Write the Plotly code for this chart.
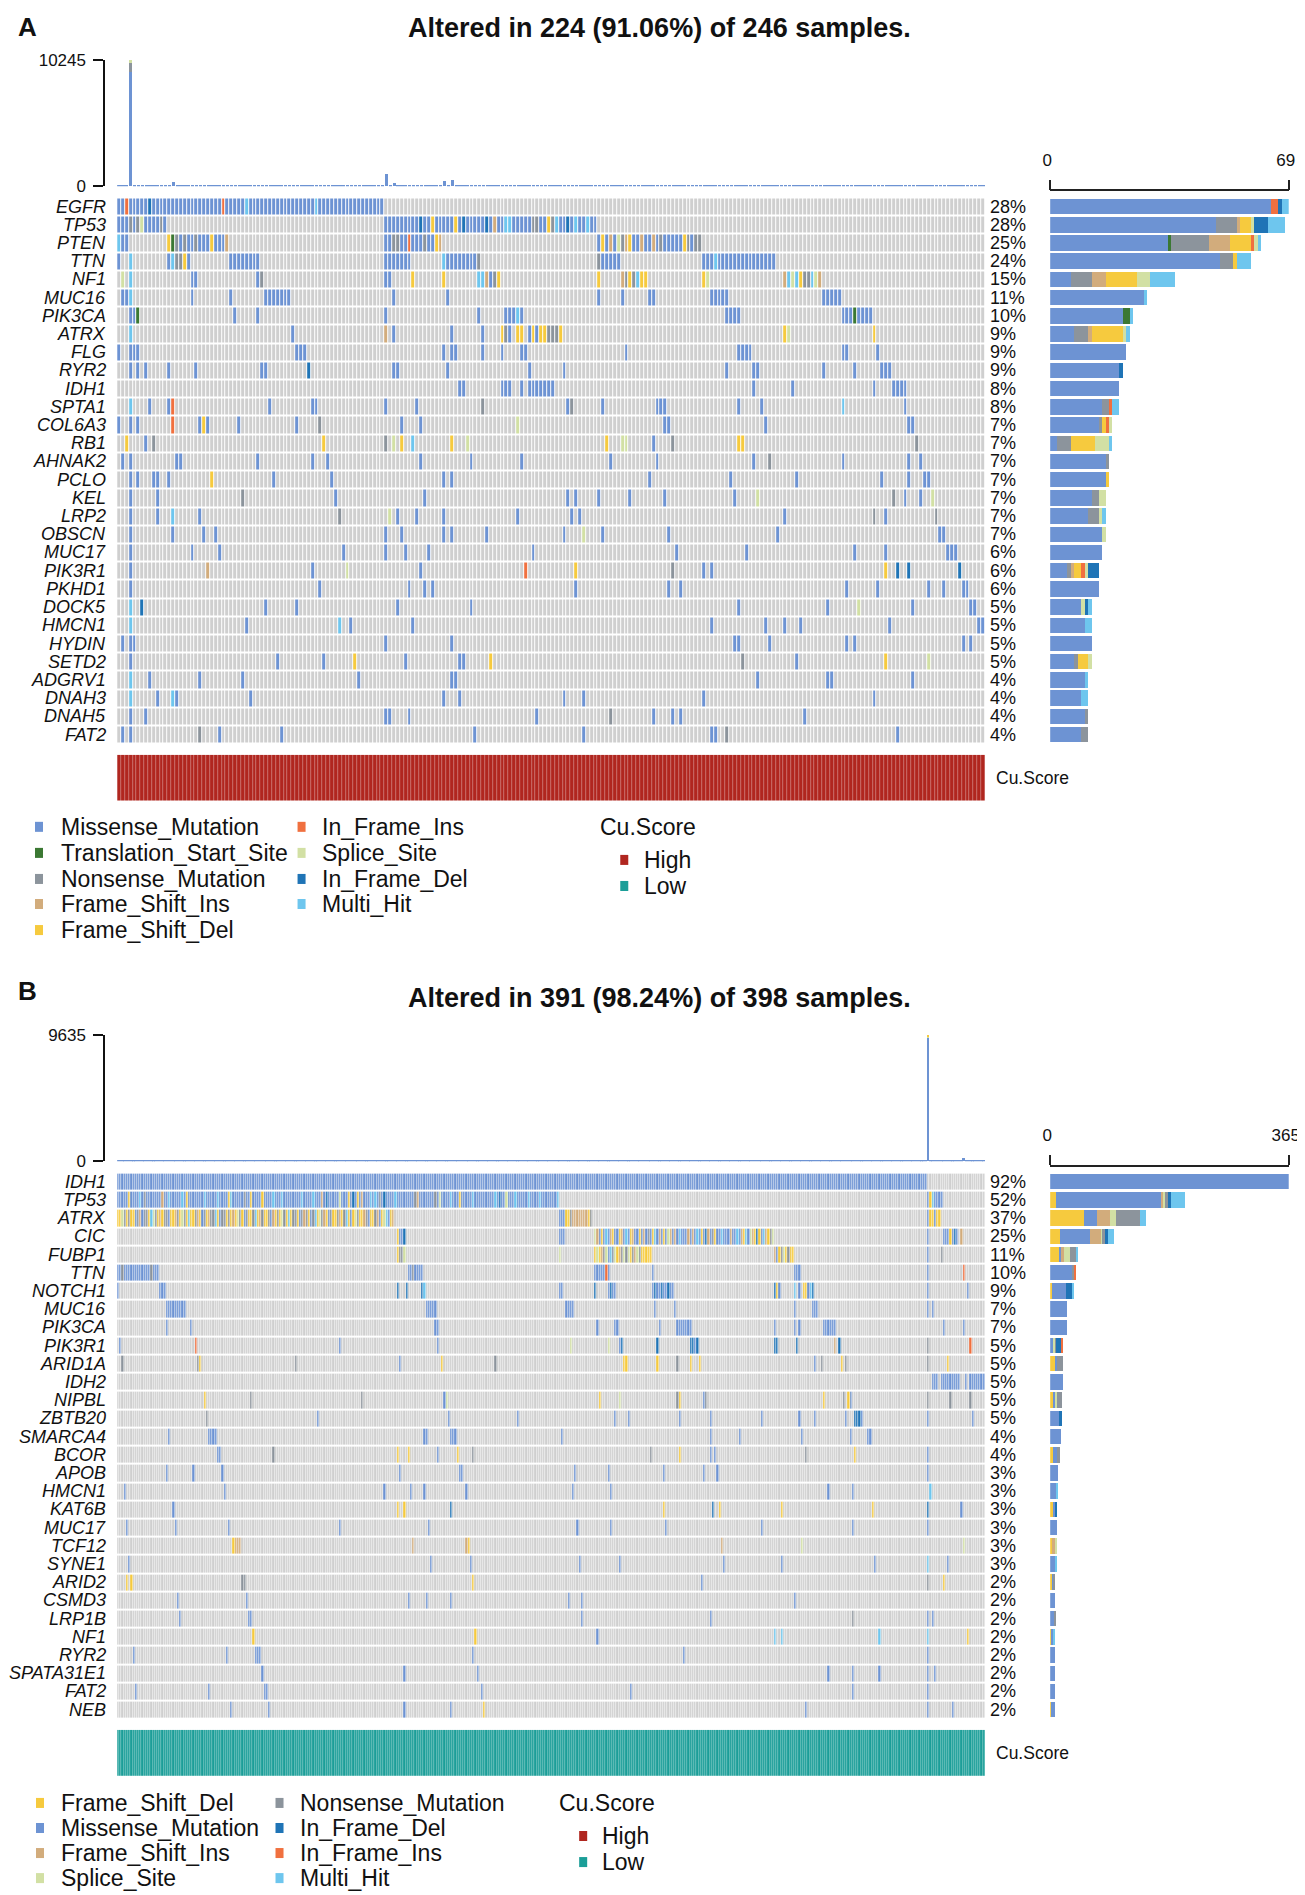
import numpy as np
import plotly.graph_objects as go

W, H = 1325, 1925
PAD = 8                      # body margin of the written page
SX, OX = 0.9835, 6.2         # small correction between page pixels and the photographed picture
SY, OY = 0.988, 11.0
FONT = "Liberation Sans, Arial, sans-serif"

# variant classes: code letter -> (index, name, colour)
VC = {
    "M": (1, "Missense_Mutation", "#6D93D3"),
    "T": (2, "Translation_Start_Site", "#3B7833"),
    "N": (3, "Nonsense_Mutation", "#8C949C"),
    "I": (4, "Frame_Shift_Ins", "#D2AC7C"),
    "F": (5, "Frame_Shift_Del", "#F6CA3E"),
    "O": (6, "In_Frame_Ins", "#F0703F"),
    "S": (7, "Splice_Site", "#D2E0A4"),
    "D": (8, "In_Frame_Del", "#1F74B6"),
    "H": (9, "Multi_Hit", "#6EC6EE"),
}
BG = "#CFCFCF"
CU_HIGH = "#B0261F"
CU_LOW = "#1B9E98"

# ---------------- panel A data ----------------
a_title = "Altered in 224 (91.06%) of 246 samples."
a_n = 224
a_genes = ["EGFR", "TP53", "PTEN", "TTN", "NF1", "MUC16", "PIK3CA", "ATRX", "FLG", "RYR2",
           "IDH1", "SPTA1", "COL6A3", "RB1", "AHNAK2", "PCLO", "KEL", "LRP2", "OBSCN", "MUC17",
           "PIK3R1", "PKHD1", "DOCK5", "HMCN1", "HYDIN", "SETD2", "ADGRV1", "DNAH3", "DNAH5", "FAT2"]
a_pct = ["28%", "28%", "25%", "24%", "15%", "11%", "10%", "9%", "9%", "9%", "8%", "8%", "7%", "7%",
         "7%", "7%", "7%", "7%", "7%", "6%", "6%", "6%", "5%", "5%", "5%", "5%", "4%", "4%", "4%", "4%"]
a_rows = [
    "0-68M 2O 8D 27O 33H 51H",
    "0-12M 3N 5N 6S 11N 69-123M 78D 81F 87F 89D 95D 97I 100H 101H 107N 108N 111F 112N 113H 116D 118H 121H",
    "0H 1-2M 13-28M 13F 14T 15N 17N 20N 24F 28I 69-83M 71N 72N 75O 79N 82F 83I 124-150M 125F 127I 129S "
    "130N 131I 132F 135I 138I 140N 146F 147N 149N 150N",
    "0M 3H 13M 14H 15N 16N 17F 18M 29-36M 69-75M 84H 85-92M 93N 124N 125-129M 151-169M 154H",
    "1S 3H 19-20M 36M 37N 69-70M 76F 84F 93H 94H 95I 96M 97N 98F 124F 130I 131N 132F 133N 134H 135F 136F "
    "151F 152S 172I 173H 174S 175H 176F 177N 178N 179H 180S 181I",
    "1-2M 3H 19M 29M 38-44M 71M 85M 124M 130M 137-138M 153-157M 182-186M",
    "3-4M 5T 30M 36M 69M 93M 100-102M 103H 104M 157-160M 187-189M 190T 191-194M",
    "3H 45M 69I 71M 86M 94M 99F 100N 101M 103F 104F 106M 107F 108M 109F 110F 111N 112N 113N 114F 172F 173S 195F",
    "0M 3-5M 46-48M 84M 86-87M 94M 99M 104-105M 131M 160-163M 187-188M 196M",
    "3M 5M 7M 13M 20M 37-38M 49D 71-72M 85M 106M 115M 157M 164-165M 182M 190M 197-199M",
    "88-89M 99-101M 104M 106-112M 164M 174M 195M 200-203M",
    "3H 8M 13M 14O 39M 50-51M 69M 77M 94N 116M 117N 125M 139-141M 160M 166M 187H 203M",
    "0M 3M 5M 14O 21M 22F 23M 31M 46M 52N 73M 78M 103S 141-142M 167M 204-205M",
    "2F 7M 9N 53F 69N 71S 73F 76H 86F 90S 126F 130-131S 138M 143N 160-161F 206N",
    "1M 3M 15-16M 36M 50M 54M 78M 91M 104M 127M 139M 164M 168N 187M 204M 207M",
    "3M 5M 9-10M 13M 24F 40M 55M 84M 86M 137M 158M 175M 197M 204M 208-209M",
    "3M 10M 32N 56M 79M 116M 118M 124M 132M 141M 159M 165S 200N 203M 207M 210S",
    "3M 10M 14H 21M 57N 70S 72M 77M 84M 103M 117M 119M 172M 195N 198M 211N",
    "3M 14M 22M 25M 69M 73M 84M 86M 95M 115M 120S 125M 142M 170M 212-213M",
    "3M 19M 26M 58M 69M 74M 80M 107M 144M 162M 190M 198M 214-216M",
    "3M 23I 50M 59S 78M 105O 118F 143N 151M 153M 198F 201D 204D 217D",
    "3M 52M 75M 79M 81M 118M 142M 145M 188M 196M 209M 213M 218-219M",
    "3H 6D 38M 46M 72M 91M 160M 183M 191S 205M 220-221M",
    "3H 33M 57H 60M 76M 153M 167M 172M 176M 199M 222-223M",
    "1M 3-4M 69M 86M 159-160M 168M 188M 190M 218M 220M",
    "3M 41M 53M 61F 74M 88-89M 96F 161N 175M 198F 209S",
    "3H 8M 21M 32M 62M 86-87M 165M 183-184M 205M",
    "3H 10M 14H 15M 34M 84M 88M 115M 120M 151M 195M",
    "3M 7M 69-70M 75M 108M 127N 138M 143M 145M 177M",
    "1M 3M 21N 26M 42M 92M 120M 153-154M 157N 201M",
]
# per-sample mutation burden (missense part), top bar
a_tmb = [
    62, 85, 48, 9275, 70, 55, 93, 41, 66, 58, 77, 52, 88, 61, 330, 47, 73, 59, 84, 50,
    44, 68, 57, 90, 39, 71, 63, 49, 82, 54, 46, 75, 60, 38, 69, 87, 52, 43, 78, 56,
    64, 41, 92, 50, 73, 58, 36, 81, 47, 66, 55, 70, 45, 89, 62, 40, 76, 53, 67, 48,
    59, 83, 42, 71, 54, 65, 38, 79, 50, 950, 61, 250, 46, 72, 57, 84, 43, 68, 51, 74,
    39, 63, 88, 55, 400, 47, 530, 60, 72, 45, 81, 53, 66, 42, 77, 58, 49, 85, 61, 44,
    70, 52, 39, 83, 120, 64, 48, 75, 56, 91, 43, 67, 59, 80, 46, 72, 54, 37, 86, 62,
    49, 74, 58, 41, 69, 55, 88, 47, 63, 76, 50, 42, 82, 57, 68, 45, 79, 53, 61, 40,
    73, 56, 84, 48, 65, 39, 77, 60, 52, 87, 44, 70, 58, 43, 81, 66, 49, 74, 55, 62,
    38, 85, 51, 69, 46, 78, 57, 42, 90, 63, 48, 72, 55, 67, 41, 83, 59, 46, 76, 53,
    64, 40, 87, 58, 71, 47, 66, 52, 80, 44, 73, 61, 49, 85, 56, 42, 78, 63, 50, 69,
    45, 82, 57, 68, 39, 75, 62, 48, 86, 54, 71, 43, 66, 59, 80, 47, 73, 52, 64, 41,
    77, 58, 69, 50,
]
a_spike = 3
a_spike_extra = [("N", 730), ("S", 240)]
a_tmb_max = 10245
a_side_max = 69
a_order = ["M", "T", "N", "I", "F", "O", "S", "D", "H"]
a_leg_cols = [["M", "T", "N", "I", "F"], ["O", "S", "D", "H"]]
a_cu = "High"

# ---------------- panel B data ----------------
b_title = "Altered in 391 (98.24%) of 398 samples."
b_n = 391
b_genes = ["IDH1", "TP53", "ATRX", "CIC", "FUBP1", "TTN", "NOTCH1", "MUC16", "PIK3CA", "PIK3R1",
           "ARID1A", "IDH2", "NIPBL", "ZBTB20", "SMARCA4", "BCOR", "APOB", "HMCN1", "KAT6B", "MUC17",
           "TCF12", "SYNE1", "ARID2", "CSMD3", "LRP1B", "NF1", "RYR2", "SPATA31E1", "FAT2", "NEB"]
b_pct = ["92%", "52%", "37%", "25%", "11%", "10%", "9%", "7%", "7%", "5%", "5%", "5%", "5%", "5%",
         "4%", "4%", "3%", "3%", "3%", "3%", "3%", "3%", "2%", "2%", "2%", "2%", "2%", "2%", "2%", "2%"]
b_rows = [
    "0-364M",
    "0-198M 365-371M 5F 31F 50F 60F 65F 104F 108F 154F 366F 10H 23H 29H 39H 45H 51H 70H 74H 83H 88H "
    "114H 116H 125H 150H 160H 170H 179H 185H 190H 198H 367H 20I 92I 110I 135I 12N 57N 118N 134N 143N "
    "100S 145S 175S 94D 106D 120D 172D",
    "0:FFSNFNFFMN 10:IMNNFHSNFI 20:FNNMFFINFS 30:NFHFFNIFMN 40:FINNHFMNNF 50:NFIFSNFMNF 60:FNHFINFFNM "
    "70:IFNFSNFHFN 80:NFMNINFMNH 90:FSNIFMNFFN 100:IFNHFMFSNF 110:FINMFFNIMF 120:SHMFI "
    "199-201M 202-203F 204N 205-211I 212F 213N 365M 366-367F 368M 369-370F",
    "126F 127-128M 129D 199-201M 215:SIMFMHMIFM 225:MFIMHMFIMM 235:FMIMNMFHMI 245:MFMSIMIMHM "
    "255:MMIMIMHMFM 265:DIMNFMMHMM 275:MIMMHMIFHM 285:SIFDFMHIFN 295:S 365M 372-374M 375F 376M 377D 378M 380I",
    "126F 127-128N 129S 199S 215:FSFINSMHNSFINSNSFNISNFFFFF 296:IMFNSFNFF 365M 371N",
    "0-18M 2N 15N 131-137M 133N 215-221M 220O 241M 305-307M 365M 381O",
    "0M 19-21M 126D 130D 137D 138H 199-200M 215D 221M 222D 223-224M 241M 242D 243-244M 245D 246M 247M "
    "248D 249-250M 296D 297F 298M 305H 307M 309-310F 311M 312H 313D 365M 383M",
    "22-30M 139-143M 202-205M 242M 251M 305M 313-315M 365M 367M",
    "22M 33M 143-144M 216M 224-225M 244M 252-258M 296M 305M 307M 318-323M 372M 381M",
    "1M 35O 100M 144M 204S 221S 226M 227D 243D 258-259D 260M 261D 296-297D 306D 323I 325D 365N 384O",
    "2N 36N 37F 80N 127M 146F 170N 228-229F 243F 252N 258F 262F 314M 317N 326F 328N 365N 374F",
    "367-369M 371-379M 382M 384-390M",
    "39F 60N 110N 147M 148S 217F 226S 252N 253F 264M 265N 318F 327N 329F 330M 365N 375N 384N",
    "40N 90M 149M 180M 224M 230M 253M 267M 290M 307M 314M 328M 332-334D 335M 365M 385M",
    "23M 41-44M 138-139M 150-152M 200M 267M 280M 308M 330M 338-339M",
    "45-46M 70N 126F 131F 144M 153F 160N 240N 253F 267M 269M 310N 332F 365M",
    "22M 34M 47M 127M 154-155M 206M 221M 246M 264M 270M 365M",
    "3M 48M 120M 132M 138M 157M 205M 222M 320M 331M 366H",
    "25M 126F 129F 150D 246F 268D 271F 299F 340F 365D 380M",
    "4M 26M 50M 100M 140M 207M 222M 247M 290M 331M 365M",
    "52F 53-55I 133I 157I 158F 272I 308S 381S",
    "5M 141M 159M 208M 226M 273M 299M 341M 365H 374M",
    "4F 6F 56-57N 160F 263M 365N 372F",
    "27M 58M 131M 139M 150M 203M 209M 305M",
    "28M 59-60M 209M 267M 331N 365M 367M",
    "61F 161F 216M 296H 299H 343H 365H 383F",
    "7M 49M 62-64M 160M 255M 365M",
    "65M 129M 162M 320M 331M 343M 365M 368M",
    "8M 41M 66-67M 164M 231M 331M 365M",
    "51M 68M 129M 150M 165F 310M 365M 376M",
]
b_tmb = [
    32, 45, 28, 51, 38, 26, 60, 41, 35, 48, 29, 55, 37, 44, 31, 58, 40, 27, 49, 36,
    52, 30, 43, 39, 57, 34, 46, 25, 50, 42, 33, 61, 38, 47, 29, 54, 36, 45, 31, 59,
    40, 28, 53, 37, 48, 32, 56, 41, 27, 50, 35, 44, 30, 58, 39, 46, 26, 52, 43, 34,
    49, 31, 57, 38, 45, 29, 54, 40, 36, 51, 28, 47, 33, 60, 42, 37, 55, 30, 44, 39,
    26, 53, 41, 48, 34, 58, 37, 45, 31, 50, 43, 28, 56, 39, 47, 33, 52, 36, 44, 30,
    57, 40, 29, 49, 38, 55, 32, 46, 41, 27, 53, 35, 60, 44, 30, 48, 37, 51, 42, 34,
    45, 28, 54, 39, 47, 33, 58, 41, 36, 50, 29, 56, 43, 38, 52, 31, 46, 40, 55, 35,
    30, 49, 37, 44, 27, 57, 42, 35, 51, 39, 46, 32, 59, 41, 34, 48, 28, 53, 45, 38,
    52, 36, 43, 29, 55, 40, 47, 33, 58, 38, 44, 31, 50, 42, 37, 54, 27, 49, 41, 35,
    46, 30, 57, 39, 48, 34, 53, 41, 28, 51, 36, 45, 32, 60, 43, 38, 55, 29, 47, 40,
    33, 52, 44, 37, 56, 31, 49, 42, 35, 58, 27, 46, 40, 53, 38, 45, 30, 54, 41, 36,
    59, 34, 47, 39, 28, 55, 43, 37, 50, 32, 48, 41, 57, 35, 44, 29, 52, 38, 46, 40,
    31, 56, 42, 49, 36, 53, 27, 45, 39, 58, 34, 47, 41, 30, 55, 37, 50, 43, 28, 52,
    44, 38, 57, 33, 48, 40, 35, 54, 29, 46, 42, 59, 37, 51, 31, 45, 39, 56, 34, 49,
    41, 27, 53, 38, 47, 36, 58, 43, 30, 50, 35, 45, 40, 55, 32, 48, 37, 52, 44, 29,
    56, 39, 46, 34, 51, 42, 28, 57, 37, 49, 33, 44, 40, 54, 31, 47, 38, 53, 45, 36,
    50, 29, 43, 58, 35, 48, 41, 32, 55, 38, 46, 30, 52, 44, 37, 57, 27, 49, 40, 34,
    53, 36, 47, 39, 31, 56, 42, 45, 28, 51, 38, 59, 33, 46, 40, 54, 35, 48, 30, 44,
    41, 52, 37, 57, 45, 9435, 39, 48, 32, 55, 43, 36, 50, 29, 47, 41, 58, 34, 46, 38,
    53, 250, 42, 35, 49, 31, 56, 44, 37, 52, 40,
]
b_spike = 365
b_spike_extra = [("S", 100), ("F", 100)]
b_tmb_max = 9635
b_side_max = 365
b_order = ["F", "M", "I", "S", "N", "D", "O", "H"]
b_leg_cols = [["F", "M", "I", "S"], ["N", "D", "O", "H"]]
b_cu = "Low"


def px(x):
    # picture pixel -> paper fraction
    return ((x - OX) / SX - PAD) / W


def py(y):
    return 1 - ((y - OY) / SY - PAD) / H


def build_matrix(rows, n):
    m = np.zeros((len(rows), n), dtype=int)
    for i, spec in enumerate(rows):
        for tok in spec.split():
            if ":" in tok:
                start, seq = tok.split(":")
                for j, ch in enumerate(seq):
                    m[i, int(start) + j] = VC[ch][0]
                continue
            code = VC[tok[-1]][0]
            span = tok[:-1]
            if "-" in span:
                a, b = map(int, span.split("-"))
            else:
                a = b = int(span)
            m[i, a:b + 1] = code
    return m


colors = [BG] + [VC[k][2] for k in "MTNIFOSDH"]
scale = []
for i, c in enumerate(colors):
    scale += [[i / len(colors), c], [(i + 1) / len(colors), c]]

fig = go.Figure()
annotations = []
shapes = []
layout_axes = {}


def axname(i, kind):
    return kind if i == 1 else f"{kind}{i}"


def add_panel(k, label, title, n, genes, pct, rows, tmb, spike, spike_extra, tmb_max, side_max,
              order, cu, heat_top, xgap):
    xt, xh, xs, xc = [axname(k + i, "x") for i in range(4)]
    yt, yh, ys, yc = [axname(k + i, "y") for i in range(4)]
    heat_bot = heat_top + 545
    m = build_matrix(rows, n)
    ng = len(genes)

    # top bar: mutation burden per sample
    fig.add_trace(go.Bar(x=list(range(n)), y=tmb, marker_color=VC["M"][2], marker_line_width=0,
                         xaxis=xt, yaxis=yt, hoverinfo="skip", showlegend=False))
    for code, val in spike_extra:
        fig.add_trace(go.Bar(x=[spike], y=[val], marker_color=VC[code][2], marker_line_width=0,
                             xaxis=xt, yaxis=yt, hoverinfo="skip", showlegend=False))

    # oncoprint matrix
    fig.add_trace(go.Heatmap(z=m, x=list(range(n)), y=list(range(ng)), colorscale=scale,
                             zmin=-0.5, zmax=len(colors) - 0.5, showscale=False, xgap=xgap, ygap=2,
                             xaxis=xh, yaxis=yh, hoverinfo="skip"))

    # side bar: counts per variant class per gene
    for code in order:
        counts = (m == VC[code][0]).sum(axis=1)
        fig.add_trace(go.Bar(x=counts, y=list(range(ng)), orientation="h", marker_color=VC[code][2],
                             marker_line_width=0, xaxis=xs, yaxis=ys, hoverinfo="skip",
                             showlegend=False))

    # Cu.Score annotation strip
    cu_val = 1 if cu == "High" else 0
    fig.add_trace(go.Heatmap(z=[[cu_val] * n], x=list(range(n)), y=[0],
                             colorscale=[[0, CU_LOW], [0.5, CU_LOW], [0.5, CU_HIGH], [1, CU_HIGH]],
                             zmin=0, zmax=1, showscale=False, xgap=0.35, xaxis=xc, yaxis=yc,
                             hoverinfo="skip"))

    hx = [px(115), px(981)]
    tick = dict(family=FONT, size=17, color="#111")
    layout_axes["xaxis" if k == 1 else f"xaxis{k}"] = dict(
        domain=hx, range=[-0.5, n - 0.5], visible=False, anchor=yt)
    layout_axes["yaxis" if k == 1 else f"yaxis{k}"] = dict(
        domain=[py(heat_top - 11.3), py(heat_top - 137.3)], range=[0, tmb_max],
        anchor="free", position=px(102), showline=True, linecolor="#111", linewidth=1.5,
        ticks="outside", ticklen=10, tickwidth=1.5, tickcolor="#111",
        tickvals=[0, tmb_max], ticktext=["0", str(tmb_max)], tickfont=tick,
        showgrid=False, zeroline=False, ticklabelstandoff=4)
    layout_axes[f"xaxis{k + 1}"] = dict(domain=hx, range=[-0.5, n - 0.5], visible=False, anchor=yh)
    layout_axes[f"yaxis{k + 1}"] = dict(domain=[py(heat_bot), py(heat_top)], range=[ng - 0.5, -0.5],
                                        visible=False, anchor=xh)
    layout_axes[f"xaxis{k + 2}"] = dict(
        domain=[px(1046), px(1284)], range=[0, side_max], side="top", anchor="free",
        position=py(heat_top - 7), showline=True, linecolor="#222", linewidth=1.5,
        ticks="outside", ticklen=10, tickwidth=1.5, tickcolor="#222",
        tickvals=[0, side_max], ticktext=["0", str(side_max)], tickfont=tick,
        showgrid=False, zeroline=False, ticklabelstandoff=7, ticklabelshift=-3)
    layout_axes[f"yaxis{k + 2}"] = dict(domain=[py(heat_bot), py(heat_top)], range=[ng - 0.5, -0.5],
                                        visible=False, anchor=xs)
    layout_axes[f"xaxis{k + 3}"] = dict(domain=hx, range=[-0.5, n - 0.5], visible=False, anchor=yc)
    layout_axes[f"yaxis{k + 3}"] = dict(domain=[py(heat_top + 602), py(heat_top + 556)],
                                        range=[-0.5, 0.5], visible=False, anchor=xc)

    for i, g in enumerate(genes):
        annotations.append(dict(text=f"<i>{g}</i>", x=px(106), xref="paper", y=i, yref=yh,
                                xanchor="right", yanchor="middle", showarrow=False,
                                font=dict(family=FONT, size=18, color="#111")))
        annotations.append(dict(text=pct[i], x=px(984), xref="paper", y=i, yref=yh,
                                xanchor="left", yanchor="middle", showarrow=False,
                                font=dict(family=FONT, size=18, color="#111")))
    annotations.append(dict(text="Cu.Score", x=px(990), xref="paper", y=py(heat_top + 579),
                            yref="paper", xanchor="left", yanchor="middle", showarrow=False,
                            font=dict(family=FONT, size=17.5, color="#111")))
    annotations.append(dict(text=f"<b>{title}</b>", x=px(656), xref="paper",
                            y=min(py(heat_top - 174), 1 - 11 / H),
                            yref="paper", xanchor="center", yanchor="middle", showarrow=False,
                            font=dict(family=FONT, size=27, color="#111")))
    annotations.append(dict(text=f"<b>{label}</b>", x=0, xref="paper",
                            y=min(py(heat_top - 181), 1 - 10.5 / H),
                            yref="paper", xanchor="left", yanchor="middle", showarrow=False,
                            font=dict(family=FONT, size=26, color="#111")))


def add_legend(cols, col_x, row_y, cu_x, cu_rows):
    lf = dict(family=FONT, size=23, color="#111")
    for items, (sx, tx) in zip(cols, col_x):
        for code, yy in zip(items, row_y):
            shapes.append(dict(type="rect", xref="paper", yref="paper", x0=px(sx - 4), x1=px(sx + 4),
                               y0=py(yy + 5), y1=py(yy - 5), fillcolor=VC[code][2], line_width=0))
            annotations.append(dict(text=VC[code][1], x=px(tx), xref="paper", y=py(yy), yref="paper",
                                    xanchor="left", yanchor="middle", showarrow=False, font=lf))
    tx0, ty0 = cu_x
    annotations.append(dict(text="Cu.Score", x=px(tx0), xref="paper", y=py(ty0), yref="paper",
                            xanchor="left", yanchor="middle", showarrow=False, font=lf))
    for (name, col), (sx, tx, yy) in zip([("High", CU_HIGH), ("Low", CU_LOW)], cu_rows):
        shapes.append(dict(type="rect", xref="paper", yref="paper", x0=px(sx - 4), x1=px(sx + 4),
                           y0=py(yy + 5), y1=py(yy - 5), fillcolor=col, line_width=0))
        annotations.append(dict(text=name, x=px(tx), xref="paper", y=py(yy), yref="paper",
                                xanchor="left", yanchor="middle", showarrow=False, font=lf))


add_panel(1, "A", a_title, a_n, a_genes, a_pct, a_rows, a_tmb, a_spike, a_spike_extra, a_tmb_max,
          a_side_max, a_order, a_cu, 199, 1)
add_panel(5, "B", b_title, b_n, b_genes, b_pct, b_rows, b_tmb, b_spike, b_spike_extra, b_tmb_max,
          b_side_max, b_order, b_cu, 1172, 0.6)

add_legend(a_leg_cols, [(37, 57), (299, 317)], [827, 853, 879, 904, 930], (595, 827),
           [(621, 639, 860), (621, 639, 886)])
add_legend(b_leg_cols, [(38, 57), (277, 295)], [1801, 1826, 1851, 1876], (554, 1801),
           [(580, 597, 1834), (580, 597, 1860)])

fig.update_layout(
    width=W, height=H, autosize=False,
    margin=dict(l=0, r=0, t=0, b=0),
    paper_bgcolor="white", plot_bgcolor="white",
    barmode="stack", bargap=0.15,
    showlegend=False,
    font=dict(family=FONT, color="#111"),
    annotations=annotations, shapes=shapes,
    **layout_axes,
)

fig.write_html("out.html")
